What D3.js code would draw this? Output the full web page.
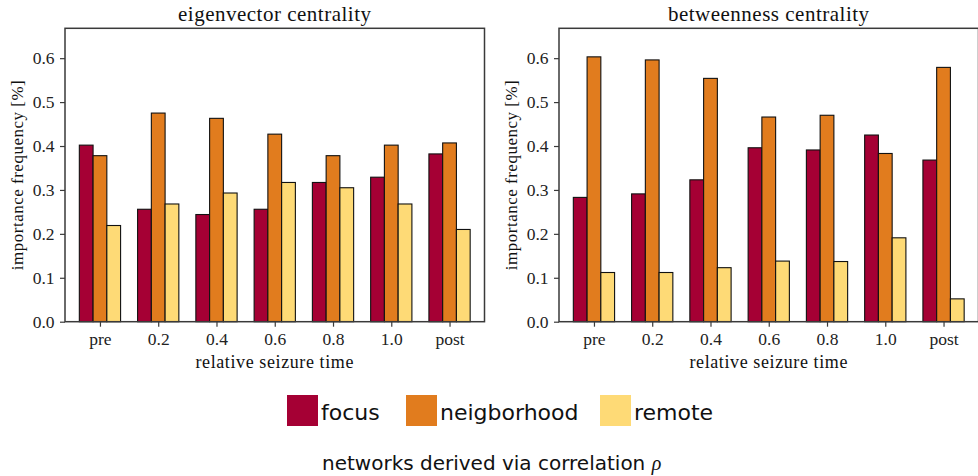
<!DOCTYPE html>
<html>
<head>
<meta charset="utf-8">
<script src="https://cdn.jsdelivr.net/npm/d3@7"></script>
<style>
  html, body { margin: 0; padding: 0; background: #fff; }
  svg { display: block; }
</style>
</head>
<body>
<svg id="chart" width="978" height="476"></svg>
<script>
// Relative seizure time bins
const categories = ["pre", "0.2", "0.4", "0.6", "0.8", "1.0", "post"];
const seriesNames = ["focus", "neigborhood", "remote"];
const seriesColors = ["#a50034", "#e17c1e", "#feda76"];
const yTicks = [0.0, 0.1, 0.2, 0.3, 0.4, 0.5, 0.6];

// Eigenvector centrality: importance frequency per region
const eigFocus  = [0.402, 0.256, 0.244, 0.256, 0.317, 0.329, 0.382];
const eigNeigh  = [0.378, 0.475, 0.463, 0.427, 0.378, 0.402, 0.407];
const eigRemote = [0.219, 0.268, 0.293, 0.317, 0.305, 0.268, 0.210];

// Betweenness centrality: importance frequency per region
const btwFocus  = [0.283, 0.291, 0.323, 0.396, 0.391, 0.425, 0.368];
const btwNeigh  = [0.603, 0.596, 0.554, 0.466, 0.470, 0.383, 0.579];
const btwRemote = [0.112, 0.112, 0.123, 0.138, 0.137, 0.191, 0.052];

const panels = [
  { title: "eigenvector centrality", series: [eigFocus, eigNeigh, eigRemote], left: 65 },
  { title: "betweenness centrality", series: [btwFocus, btwNeigh, btwRemote], left: 559 }
];

const svg = d3.select("#chart");
const serif = "'Liberation Serif', 'DejaVu Serif', serif";
const sans = "'DejaVu Sans', sans-serif";

const plotTop = 28.3, plotBottom = 321.7, plotWidth = 419.5;
const yMax = 0.668;
const y = d3.scaleLinear().domain([0, yMax]).range([plotBottom, plotTop]);

const barW = 0.236;   // bar width in category units
const offsets = [-1, 0, 1];

panels.forEach(p => {
  const x = d3.scaleLinear().domain([-0.6, 6.6]).range([p.left, p.left + plotWidth]);
  const g = svg.append("g");

  // bars
  p.series.forEach((vals, si) => {
    g.selectAll(null)
      .data(vals)
      .join("rect")
      .attr("x", (d, i) => x(i + offsets[si] * barW - barW / 2))
      .attr("width", x(barW) - x(0))
      .attr("y", d => y(d))
      .attr("height", d => y(0) - y(d))
      .attr("fill", seriesColors[si])
      .attr("stroke", "#111")
      .attr("stroke-width", 1.1);
  });

  // frame
  g.append("rect")
    .attr("x", p.left).attr("y", plotTop)
    .attr("width", plotWidth).attr("height", plotBottom - plotTop)
    .attr("fill", "none").attr("stroke", "#3a3a3a").attr("stroke-width", 1.5);

  // y axis
  const yAxis = g.append("g")
    .attr("transform", `translate(${p.left},0)`)
    .call(d3.axisLeft(y).tickValues(yTicks).tickFormat(d3.format(".1f")).tickSize(5).tickPadding(5.5));
  yAxis.select(".domain").remove();
  yAxis.selectAll("line").attr("stroke", "#3a3a3a").attr("stroke-width", 1.2);
  yAxis.selectAll("text").attr("font-family", serif).attr("font-size", 17.5).attr("fill", "#222");

  // x axis
  const xAxis = g.append("g")
    .attr("transform", `translate(0,${plotBottom})`)
    .call(d3.axisBottom(x).tickValues(d3.range(categories.length)).tickFormat(i => categories[i]).tickSize(5).tickPadding(6));
  xAxis.select(".domain").remove();
  xAxis.selectAll("line").attr("stroke", "#3a3a3a").attr("stroke-width", 1.2);
  xAxis.selectAll("text").attr("font-family", serif).attr("font-size", 17.5).attr("fill", "#222");

  const cx = p.left + plotWidth / 2;
  g.append("text")
    .attr("x", cx).attr("y", 21)
    .attr("text-anchor", "middle")
    .attr("font-family", serif).attr("font-size", 21).attr("letter-spacing", 0.5).attr("fill", "#111")
    .text(p.title);

  g.append("text")
    .attr("x", cx).attr("y", 368)
    .attr("text-anchor", "middle")
    .attr("font-family", serif).attr("font-size", 18).attr("letter-spacing", 0.6).attr("fill", "#111")
    .text("relative seizure time");

  g.append("text")
    .attr("transform", `translate(${p.left - 42},${(plotTop + plotBottom) / 2}) rotate(-90)`)
    .attr("text-anchor", "middle")
    .attr("font-family", serif).attr("font-size", 17).attr("letter-spacing", 0.5).attr("fill", "#111")
    .text("importance frequency [%]");
});

// legend
const legendItems = [
  { name: seriesNames[0], color: seriesColors[0], x: 287 },
  { name: seriesNames[1], color: seriesColors[1], x: 406 },
  { name: seriesNames[2], color: seriesColors[2], x: 600 }
];
const lg = svg.append("g");
legendItems.forEach(it => {
  lg.append("rect").attr("x", it.x).attr("y", 395).attr("width", 31).attr("height", 31).attr("fill", it.color);
  lg.append("text")
    .attr("x", it.x + 34).attr("y", 420)
    .attr("font-family", sans).attr("font-size", 22).attr("fill", "#111")
    .text(it.name);
});

// footer caption
const cap = svg.append("text")
  .attr("x", 322).attr("y", 470)
  .attr("font-family", sans).attr("font-size", 20).attr("fill", "#111");
cap.append("tspan").text("networks derived via correlation ");
cap.append("tspan").attr("font-family", serif).attr("font-style", "italic").text("ρ");
</script>
</body>
</html>
